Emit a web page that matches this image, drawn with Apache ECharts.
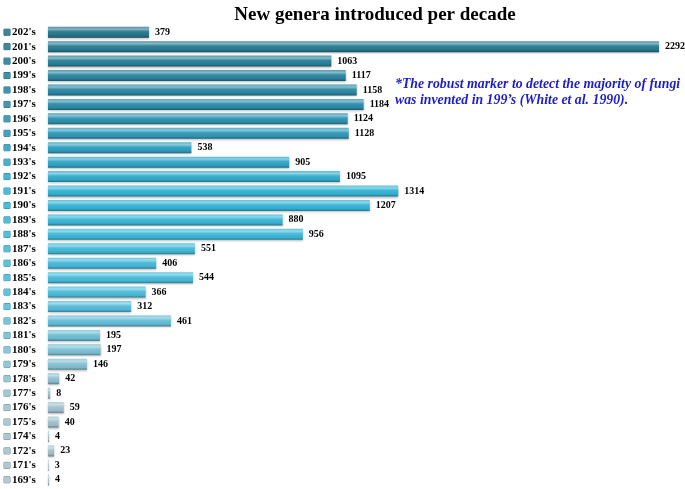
<!DOCTYPE html>
<html>
<head>
<meta charset="utf-8">
<script src="https://cdn.jsdelivr.net/npm/echarts@6/dist/echarts.min.js"></script>
<style>
html, body { margin: 0; padding: 0; background: #fff; }
#main { width: 685px; height: 489px; }
</style>
</head>
<body>
<div id="main"></div>
<script>
var decades = ["202's", "201's", "200's", "199's", "198's", "197's", "196's", "195's", "194's", "193's",
	"192's", "191's", "190's", "189's", "188's", "187's", "186's", "185's", "184's", "183's",
	"182's", "181's", "180's", "179's", "178's", "177's", "176's", "175's", "174's", "172's",
	"171's", "169's"];
var genera = [379, 2292, 1063, 1117, 1158, 1184, 1124, 1128, 538, 905,
	1095, 1314, 1207, 880, 956, 551, 406, 544, 366, 312,
	461, 195, 197, 146, 42, 8, 59, 40, 4, 23,
	3, 4];
var noteLines = ["*The robust marker to detect the majority of fungi", "was invented in 199\u2019s (White et al. 1990)."];

// base colour anchors down the list (index -> rgb)
var anchors = [
	[0, [38, 118, 142]],
	[6, [44, 146, 176]],
	[11, [50, 180, 214]],
	[18, [76, 188, 220]],
	[22, [124, 192, 212]],
	[26, [160, 194, 206]],
	[31, [168, 194, 204]]
];

function baseColor(i) {
	for (var k = 0; k < anchors.length - 1; k++) {
		var a = anchors[k], b = anchors[k + 1];
		if (i >= a[0] && i <= b[0]) {
			var t = (i - a[0]) / (b[0] - a[0]);
			return a[1].map(function (v, j) { return Math.round(v + (b[1][j] - v) * t); });
		}
	}
	return anchors[anchors.length - 1][1];
}
function mix(c, target, t) {
	return 'rgb(' + c.map(function (v, j) { return Math.round(v + (target[j] - v) * t); }).join(',') + ')';
}

var barData = genera.map(function (v, i) {
	var c = baseColor(i);
	return {
		value: v,
		itemStyle: {
			color: new echarts.graphic.LinearGradient(0, 0, 0, 1, [
				{ offset: 0, color: mix(c, [255, 255, 255], 0.2) },
				{ offset: 0.22, color: mix(c, [255, 255, 255], 0.45) },
				{ offset: 0.45, color: mix(c, [255, 255, 255], 0.05) },
				{ offset: 0.8, color: mix(c, [0, 0, 0], 0.05) },
				{ offset: 1, color: mix(c, [0, 0, 0], 0.35) }
			]),
			shadowColor: 'rgba(0,0,0,0.25)',
			shadowBlur: 2,
			shadowOffsetY: 1
		}
	};
});

// legend-like square before each decade label, tinted like its bar
var labelRich = {
	t: {
		fontFamily: 'Liberation Serif', fontWeight: 'bold', fontSize: 11, color: '#000',
		padding: [0, 0, 0, 2]
	}
};
decades.forEach(function (d, i) {
	var c = baseColor(i);
	labelRich['b' + i] = {
		width: 6, height: 6,
		backgroundColor: mix(c, [255, 255, 255], 0.1),
		borderColor: mix(c, [0, 0, 0], 0.3), borderWidth: 0.5
	};
});

var myChart = echarts.init(document.getElementById('main'));
var option = {
	animation: false,
	title: {
		text: 'New genera introduced per decade',
		left: 370,
		textAlign: 'center',
		top: 1,
		textStyle: { fontFamily: 'Liberation Serif', fontWeight: 'bold', fontSize: 19, color: '#000' }
	},
	grid: { left: 48, right: 26, top: 25, bottom: 2 },
	xAxis: {
		type: 'value',
		min: 0,
		max: 2292,
		show: false
	},
	yAxis: {
		type: 'category',
		data: decades,
		inverse: true,
		axisLine: { show: false },
		axisTick: { show: false },
		axisLabel: {
			interval: 0,
			align: 'left',
			margin: 44,
			formatter: function (v, idx) { return '{b' + idx + '|}{t|' + v + '}'; },
			rich: labelRich
		}
	},
	series: [{
		type: 'bar',
		data: barData,
		barWidth: 11,
		label: {
			show: true,
			position: 'right',
			distance: 6,
			fontFamily: 'Liberation Serif',
			fontWeight: 'bold',
			fontSize: 10,
			color: '#000'
		}
	}],
	graphic: [{
		type: 'text',
		left: 395,
		top: 76,
		style: {
			text: noteLines.join('\n'),
			fill: '#1c1ccf',
			font: 'italic bold 13.8px "Liberation Serif"',
			lineHeight: 16
		}
	}]
};
myChart.setOption(option);
</script>
</body>
</html>
